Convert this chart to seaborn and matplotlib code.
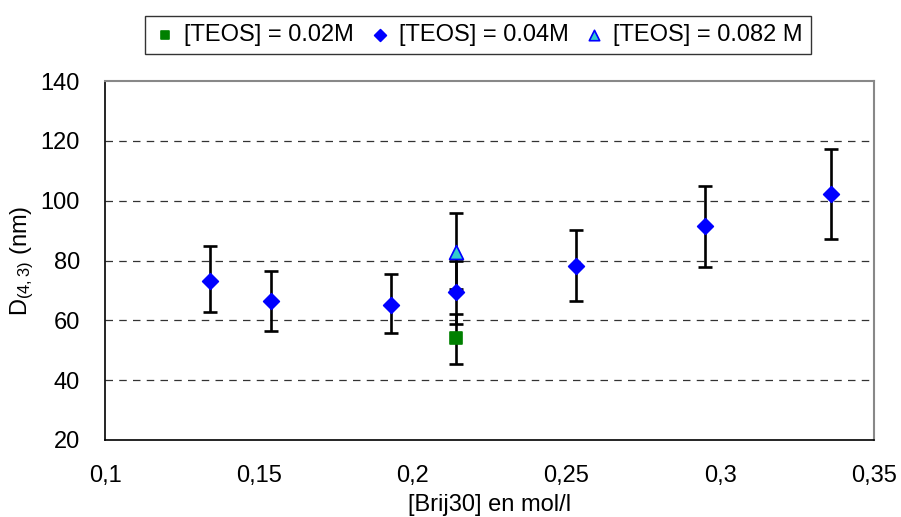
import matplotlib
matplotlib.use("Agg")
import matplotlib.pyplot as plt
import numpy as np
import pandas as pd
import seaborn as sns

# ── Data ─────────────────────────────────────────────────────────────────────
brij_002 = [0.214]
d43_002 = [54.2]
lo_002 = [8.7]
hi_002 = [7.8]

brij_004 = [0.134, 0.154, 0.193, 0.214, 0.253, 0.295, 0.336]
d43_004 = [73.2, 66.5, 65.1, 69.6, 78.3, 91.5, 102.3]
lo_004 = [10.5, 10.2, 9.4, 10.7, 11.9, 13.8, 15.0]
hi_004 = [11.6, 9.9, 10.3, 10.2, 12.0, 13.3, 15.0]

brij_0082 = [0.214]
d43_0082 = [82.9]
lo_0082 = [12.3]
hi_0082 = [12.9]

labels = ["[TEOS] = 0.02M", "[TEOS] = 0.04M", "[TEOS] = 0.082 M"]
y_ticks = [20, 40, 60, 80, 100, 120, 140]
x_ticks = [0.1, 0.15, 0.2, 0.25, 0.3, 0.35]
x_ticklabels = ["0,1", "0,15", "0,2", "0,25", "0,3", "0,35"]

# ── Style ────────────────────────────────────────────────────────────────────
sns.set_style("white")
plt.rcParams["font.family"] = ["Liberation Sans", "DejaVu Sans"]
plt.rcParams["mathtext.fontset"] = "custom"
plt.rcParams["mathtext.rm"] = "Liberation Sans"
plt.rcParams["mathtext.it"] = "Liberation Sans"
plt.rcParams["text.color"] = "black"
plt.rcParams["axes.labelcolor"] = "black"
plt.rcParams["xtick.color"] = "black"
plt.rcParams["ytick.color"] = "black"

FS = 17

fig = plt.figure(figsize=(9.01, 5.17), dpi=100)
ax = fig.add_axes([105 / 901, 77 / 517, 769 / 901, 359 / 517])

# grid first so it sits behind the marks
for yv in [40, 60, 80, 100, 120]:
    ax.axhline(yv, color="#333333", lw=0.9, dashes=(6, 5), zorder=0)

series = [
    (brij_002, d43_002, lo_002, hi_002, "s", "#008000", "#008000", 8),
    (brij_004, d43_004, lo_004, hi_004, "D", "#0000FF", "#0000FF", 8),
    (brij_0082, d43_0082, lo_0082, hi_0082, "^", "#33CCCC", "#0000FF", 10),
]

for (xs, ys, lo, hi, mk, fc, ec, ms), lab in zip(series, labels):
    ax.errorbar(xs, ys, yerr=[lo, hi], fmt="none", ecolor="black",
                elinewidth=1.9, capsize=5, capthick=1.9, zorder=2)
    df = pd.DataFrame({"x": xs, "y": ys})
    sns.scatterplot(data=df, x="x", y="y", marker=mk, s=ms ** 2, color=fc,
                    edgecolor=ec, linewidth=1.2, ax=ax, label=lab, zorder=3)

ax.set_xlim(0.1, 0.35)
ax.set_ylim(20, 140)
ax.set_xticks(x_ticks)
ax.set_xticklabels(x_ticklabels)
ax.set_yticks(y_ticks)
ax.tick_params(axis="both", direction="out", length=6, width=1,
               color="black", labelcolor="black", labelsize=FS)
ax.tick_params(axis="x", pad=12)
ax.tick_params(axis="y", pad=12)

for side in ["left", "bottom"]:
    ax.spines[side].set_color("black")
    ax.spines[side].set_linewidth(1.2)
for side in ["top", "right"]:
    ax.spines[side].set_color("#888888")
    ax.spines[side].set_linewidth(1.5)

ax.set_xlabel("[Brij30] en mol/l", fontsize=FS, labelpad=5)
ax.set_ylabel("D$_{(4,3)}$ (nm)", fontsize=FS, labelpad=3)

handles, labs = ax.get_legend_handles_labels()
ax.legend_.remove()
leg = fig.legend(handles, labs, loc="center", ncol=3,
                 bbox_to_anchor=(478 / 901, 1 - 35 / 517),
                 frameon=True, fancybox=False, edgecolor="black",
                 fontsize=FS, handletextpad=0.3, columnspacing=0.6,
                 borderpad=0.35, markerscale=0.75, handlelength=1.0)
leg.get_frame().set_linewidth(1.0)
for t in leg.get_texts():
    t.set_color("black")

fig.savefig("out.png", dpi=100)
plt.close()
